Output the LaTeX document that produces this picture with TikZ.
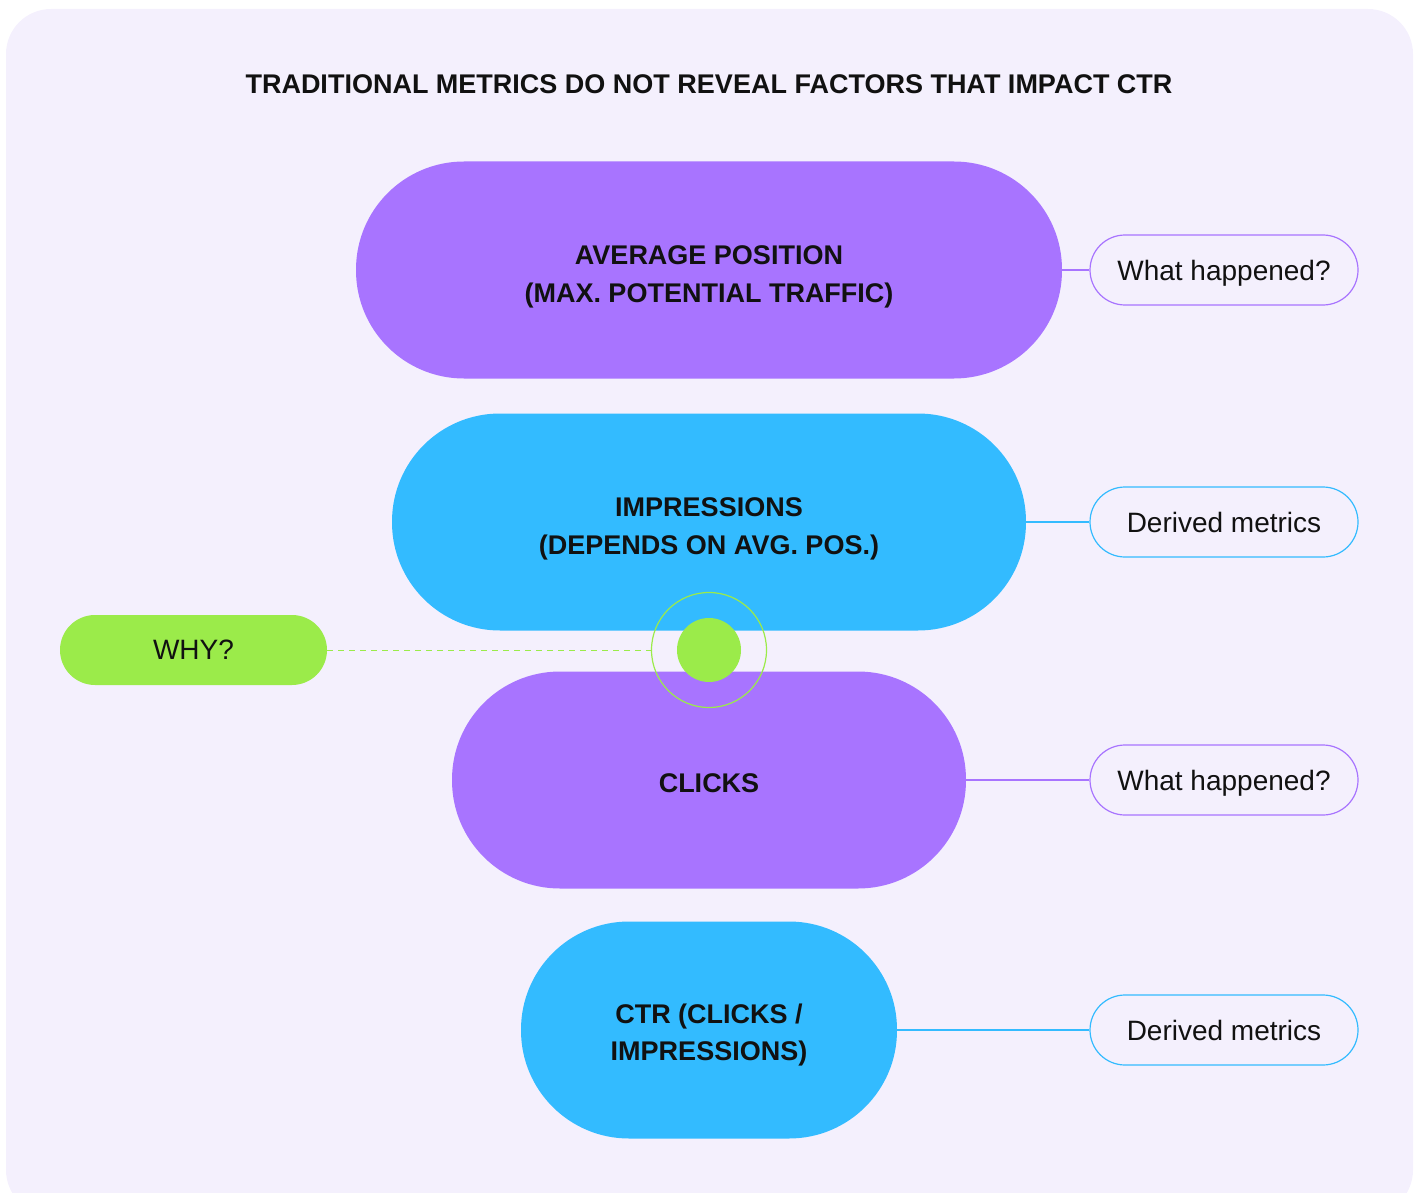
\documentclass[tikz,border=0pt]{standalone}
\usepackage{fontspec}
\setmainfont{Liberation Sans}
\definecolor{bgc}{HTML}{F4F0FD}
\definecolor{purp}{HTML}{A874FF}
\definecolor{blu}{HTML}{33BBFF}
\definecolor{grn}{HTML}{9BEB4A}
\definecolor{ink}{HTML}{111111}
\tikzset{
  big/.style={rectangle, rounded corners=108pt, minimum height=217pt, inner sep=0pt},
  bigtext/.style={inner sep=0pt, align=center, text depth=0pt, text=ink,
    font=\bfseries\fontsize{27}{38}\selectfont},
  pill/.style={rectangle, rounded corners=35pt, minimum width=268pt, minimum height=70pt, inner sep=0pt,
    fill=bgc, line width=1.2pt, text=ink, text depth=0pt, font=\fontsize{28}{30}\selectfont},
  link/.style={line width=1.2pt},
}
\begin{document}
\begin{tikzpicture}[x=1pt,y=-1pt]
\useasboundingbox (0,0) rectangle (1422,1193);
\begin{scope}
\clip (0,0) rectangle (1422,1193);
\fill[bgc, rounded corners=45pt] (6,9) rectangle (1413,1215);
\end{scope}
\node[text=ink, text depth=0pt, inner sep=0pt, font=\bfseries\fontsize{27}{30}\selectfont] (title) at (709,84.5) {TRADITIONAL METRICS DO NOT REVEAL FACTORS THAT IMPACT CTR};

\node[big, fill=purp, minimum width=706pt] (avg) at (709,270) {};
\node[big, fill=blu, minimum width=634pt] (imp) at (709,522) {};
\node[big, fill=purp, minimum width=514pt] (clk) at (709,780) {};
\node[big, fill=blu, minimum width=376pt] (ctr) at (709,1030) {};
\node[bigtext] (avgT) at ([yshift=-4pt]avg.center) {AVERAGE POSITION\\(MAX. POTENTIAL TRAFFIC)};
\node[bigtext] (impT) at ([yshift=-4pt]imp.center) {IMPRESSIONS\\(DEPENDS ON AVG. POS.)};
\node[bigtext] (clkT) at ([yshift=-3pt]clk.center) {CLICKS};
\node[bigtext, font=\bfseries\fontsize{27}{37}\selectfont] (ctrT) at ([yshift=-2pt]ctr.center) {CTR (CLICKS /\\IMPRESSIONS)};

\node[pill, draw=purp] (p1) at (1224,270) {What happened?};
\node[pill, draw=blu] (p2) at (1224,522) {Derived metrics};
\node[pill, draw=purp] (p3) at (1224,780) {What happened?};
\node[pill, draw=blu] (p4) at (1224,1030) {Derived metrics};

\draw[link, purp] (avg.east) -- (p1.west);
\draw[link, blu] (imp.east) -- (p2.west);
\draw[link, purp] (clk.east) -- (p3.west);
\draw[link, blu] (ctr.east) -- (p4.west);

\node[rectangle, rounded corners=35pt, minimum width=267pt, minimum height=70pt, inner sep=0pt, fill=grn, text=ink,
  text depth=0pt, font=\fontsize{28}{30}\selectfont] (why) at (193.5,650) {WHY?\hspace{4pt}};
\node[circle, draw=grn, line width=1.2pt, minimum size=115pt, inner sep=0pt] (ring) at (709,650) {};
\node[circle, fill=grn, minimum size=64pt, inner sep=0pt] (dot) at (709,650) {};
\draw[grn, line width=1pt, dash pattern=on 6pt off 5pt] (why.east) -- (ring.west);
\end{tikzpicture}
\end{document}
